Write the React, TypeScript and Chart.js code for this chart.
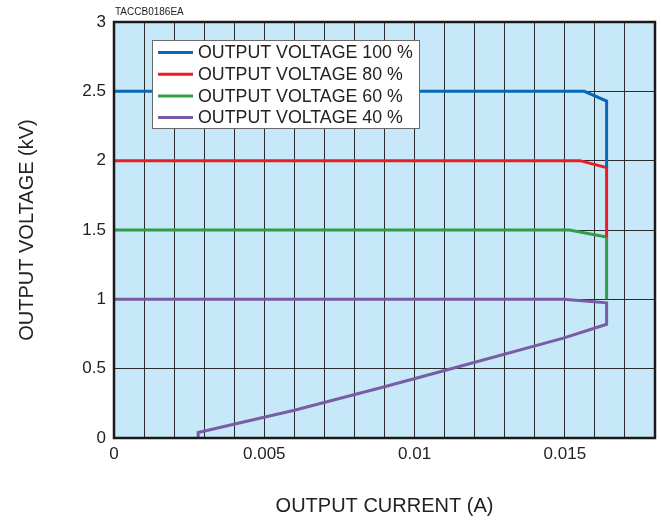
import React, { useEffect, useRef } from "react";
import { Chart, registerables } from "chart.js";

Chart.register(...registerables);

const seriesLabels = [
  "OUTPUT VOLTAGE 100 %",
  "OUTPUT VOLTAGE 80 %",
  "OUTPUT VOLTAGE 60 %",
  "OUTPUT VOLTAGE 40 %",
];
const seriesColors = ["#0a68b4", "#ec1c24", "#2f9e44", "#7a5ca4"];

const v100X = [0, 0.01565, 0.01639, 0.01639];
const v100Y = [2.5, 2.5, 2.43, 1.95];
const v80X = [0, 0.0155, 0.01639, 0.01639];
const v80Y = [2.0, 2.0, 1.95, 1.45];
const v60X = [0, 0.01515, 0.01639, 0.01639];
const v60Y = [1.5, 1.5, 1.45, 1.0];
const v40X = [0, 0.01495, 0.01639, 0.01639, 0.01495, 0.0114, 0.009, 0.006, 0.0028, 0.0028];
const v40Y = [1.0, 1.0, 0.975, 0.82, 0.72, 0.51, 0.37, 0.2, 0.04, 0];

const xMin = 0;
const xMax = 0.018;
const xStep = 0.001;
const xLabelStep = 0.005;
const yMin = 0;
const yMax = 3;
const yStep = 0.5;

const FONT = "'Liberation Sans', Arial, Helvetica, sans-serif";

function pts(xs: number[], ys: number[]) {
  return xs.map((x, i) => ({ x, y: ys[i] }));
}

export default function App() {
  const ref = useRef<HTMLCanvasElement | null>(null);

  useEffect(() => {
    const canvas = ref.current;
    if (!canvas) return;
    const seriesData = [
      pts(v100X, v100Y),
      pts(v80X, v80Y),
      pts(v60X, v60Y),
      pts(v40X, v40Y),
    ];

    const decor = {
      id: "decor",
      beforeDraw(chart: any) {
        const { ctx, chartArea: a } = chart;
        ctx.save();
        ctx.fillStyle = "#ffffff";
        ctx.fillRect(0, 0, chart.width, chart.height);
        ctx.fillStyle = "#c6e8f8";
        ctx.fillRect(a.left, a.top, a.right - a.left, a.bottom - a.top);
        ctx.restore();
      },
      afterDraw(chart: any) {
        const { ctx, chartArea: a } = chart;
        ctx.save();
        // plot border
        ctx.strokeStyle = "#1a1a1a";
        ctx.lineWidth = 2.5;
        ctx.strokeRect(a.left, a.top, a.right - a.left, a.bottom - a.top);
        // code label
        ctx.fillStyle = "#222";
        ctx.font = `10px ${FONT}`;
        ctx.textBaseline = "alphabetic";
        ctx.textAlign = "left";
        ctx.fillText("TACCB0186EA", a.left + 1, 15);
        // legend box
        const lx = 152, ly = 40, lw = 267, lh = 88;
        ctx.fillStyle = "#ffffff";
        ctx.fillRect(lx, ly, lw, lh);
        ctx.strokeStyle = "#6a6a6a";
        ctx.lineWidth = 1;
        ctx.strokeRect(lx + 0.5, ly + 0.5, lw, lh);
        ctx.font = `17.8px ${FONT}`;
        ctx.textBaseline = "middle";
        chart.data.datasets.forEach((ds: any, i: number) => {
          const cy = ly + 12.5 + i * 21.7;
          ctx.strokeStyle = ds.borderColor;
          ctx.lineWidth = 3;
          ctx.beginPath();
          ctx.moveTo(lx + 6, cy);
          ctx.lineTo(lx + 41, cy);
          ctx.stroke();
          ctx.fillStyle = "#222";
          ctx.fillText(ds.label, lx + 46, cy + 1);
        });
        ctx.restore();
      },
    };

    const chart = new Chart(canvas, {
      type: "scatter",
      data: {
        datasets: seriesData.map((d, i) => ({
          label: seriesLabels[i],
          data: d,
          showLine: true,
          borderColor: seriesColors[i],
          backgroundColor: seriesColors[i],
          borderWidth: 3,
          pointRadius: 0,
          tension: 0,
          clip: 3,
        })),
      },
      options: {
        responsive: false,
        animation: false,
        layout: { padding: { left: 0, right: 5, top: 22, bottom: 0 } },
        plugins: {
          legend: { display: false },
          tooltip: { enabled: false },
        },
        scales: {
          x: {
            type: "linear",
            min: xMin,
            max: xMax,
            border: { display: false },
            grid: { color: "#2a2a2a", lineWidth: 1, drawTicks: false },
            ticks: {
              stepSize: xStep,
              autoSkip: false,
              maxRotation: 0,
              padding: 6,
              color: "#222",
              font: { family: FONT, size: 17 },
              callback: (v: any) => {
                const n = Number(v);
                const r = n / xLabelStep;
                if (Math.abs(r - Math.round(r)) < 1e-6) {
                  return String(Math.round(n * 1000) / 1000);
                }
                return "";
              },
            },
            title: {
              display: true,
              text: "OUTPUT CURRENT (A)",
              color: "#222",
              font: { family: FONT, size: 20 },
              padding: { top: 0, bottom: 4 },
            },
            afterFit: (s: any) => {
              s.height = 84;
            },
          },
          y: {
            type: "linear",
            min: yMin,
            max: yMax,
            border: { display: false },
            grid: { color: "#2a2a2a", lineWidth: 1, drawTicks: false },
            ticks: {
              stepSize: yStep,
              padding: 8,
              color: "#222",
              font: { family: FONT, size: 17 },
              callback: (v: any) => String(Number(v)),
            },
            title: {
              display: true,
              text: "OUTPUT VOLTAGE (kV)",
              color: "#222",
              font: { family: FONT, size: 20 },
              padding: { top: 15, bottom: 0 },
            },
            afterFit: (s: any) => {
              s.width = 114;
            },
          },
        },
      },
      plugins: [decor],
    } as any);

    return () => chart.destroy();
  }, []);

  return (
    <div style={{ position: "fixed", left: 0, top: 0, width: 661, height: 522, background: "#fff" }}>
      <canvas ref={ref} width={661} height={522} style={{ display: "block" }} />
    </div>
  );
}
